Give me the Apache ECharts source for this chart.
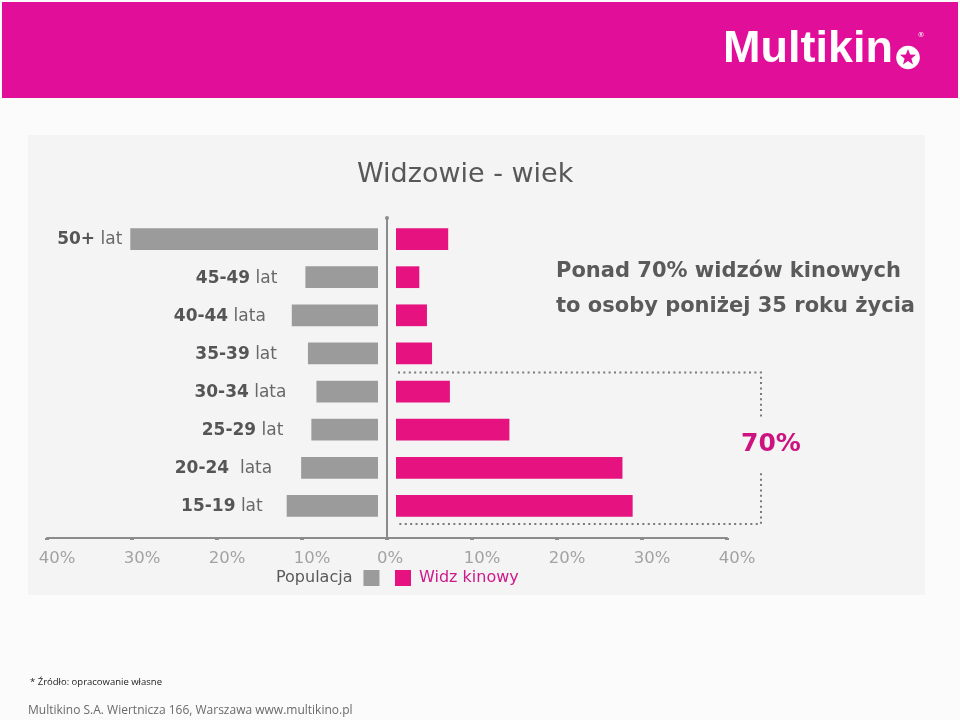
<!DOCTYPE html>
<html><head><meta charset="utf-8">
<script src="https://cdn.jsdelivr.net/npm/echarts@6/dist/echarts.min.js"></script>
<style>html,body{margin:0;padding:0;background:#fcfbfb}#c{width:960px;height:720px}</style>
</head><body><div id="c"></div>
<script>
// ---- data ----
const categories = ['50+ lat', '45-49 lat', '40-44 lata', '35-39 lat', '30-34 lata', '25-29 lat', '20-24  lata', '15-19 lat'];
const populacja = [30.2, 9.6, 11.2, 9.3, 8.3, 8.9, 10.1, 11.8];
const widzKinowy = [7.2, 3.8, 4.7, 5.3, 7.4, 14.4, 27.7, 28.9];
const seriesNames = ['Populacja', 'Widz kinowy'];
const xMin = -40, xMax = 40, xStep = 10;
const titleText = 'Widzowie - wiek';
const noteLines = ['Ponad 70% widzów kinowych', 'to osoby poniżej 35 roku życia'];
const bracketLabel = '70%';
const bracketFirst = 4, bracketLast = 7;
const bracketRight = 44;
const footnote = '* Źródło: opracowanie własne';
const footer = 'Multikino S.A. Wiertnicza 166, Warszawa www.multikino.pl';
const logoText = 'Multikin';

// ---- style ----
const PINK = '#e5127f', GRAY = '#9b9b9b', HEADER = '#e10e9a', AXIS = '#8c8c8c';
const GAP = 9;
const LABEL_GAP = [8, 28, 26, 31, 30, 28, 29, 24];
const FONT = '"DejaVu Sans", Verdana, sans-serif';

const chart = echarts.init(document.getElementById('c'));

function barRenderer(withLabel) {
  return function (params, api) {
    const v = api.value(0), idx = api.value(1);
    const p0 = api.coord([0, idx]), p1 = api.coord([v, idx]);
    const h = api.size([0, 1])[1] * 0.57;
    const dir = v < 0 ? -1 : 1;
    const xs = p0[0] + dir * GAP;
    const x = Math.min(xs, p1[0]), w = Math.abs(p1[0] - xs);
    const children = [{ type: 'rect', shape: { x: x, y: p1[1] - h / 2, width: w, height: h }, style: { fill: api.visual('color') } }];
    if (withLabel) {
      const full = categories[params.dataIndex];
      const sp = full.indexOf(' ');
      const txt = '{b|' + full.slice(0, sp) + '}{n|' + full.slice(sp) + '}';
      children.push({
        type: 'text',
        style: {
          text: txt, x: p1[0] - LABEL_GAP[params.dataIndex], y: p1[1] + 1, align: 'right', verticalAlign: 'middle',
          rich: {
            b: { fontFamily: FONT, fontWeight: 'bold', fontSize: 17, fill: '#555555', color: '#555555' },
            n: { fontFamily: FONT, fontWeight: 'normal', fontSize: 17, fill: '#686868', color: '#686868' }
          }
        }
      });
    }
    return { type: 'group', children: children };
  };
}

const option = {
  backgroundColor: '#fcfbfb',
  animation: false,
  title: { text: titleText, left: 352, top: 156, textStyle: { fontFamily: FONT, fontSize: 27, fontWeight: 'normal', color: '#585858' } },
  grid: { left: 47, right: 233, top: 220, bottom: 195 },
  xAxis: {
    type: 'value', min: xMin, max: xMax, interval: xStep, offset: 13,
    splitLine: { show: false },
    axisLine: { show: true, lineStyle: { color: AXIS, width: 2 } },
    axisTick: { show: true, length: 2, lineStyle: { color: AXIS, width: 4 } },
    axisLabel: {
      margin: 12,
      formatter: function (v) { return v === 0 ? '{z|0%}' : '{p|' + Math.abs(v) + '%}'; },
      rich: {
        p: { padding: [0, 0, 0, 20], color: '#a3a3a3', fontSize: 16.5, fontFamily: FONT },
        z: { padding: [0, 0, 0, 6], color: '#a3a3a3', fontSize: 16.5, fontFamily: FONT }
      }
    }
  },
  yAxis: { type: 'category', data: categories, inverse: true, axisLine: { show: false }, axisTick: { show: false }, axisLabel: { show: false }, splitLine: { show: false } },
  legend: [
    { data: [seriesNames[0]], left: 271, top: 565, align: 'right', icon: 'rect', itemWidth: 16, itemHeight: 16, selectedMode: false,
      textStyle: { color: '#5a5a5a', fontSize: 16, fontFamily: FONT, padding: [0, 6, 0, 0] } },
    { data: [seriesNames[1]], left: 390, top: 565, align: 'left', icon: 'rect', itemWidth: 16, itemHeight: 16, selectedMode: false,
      textStyle: { color: '#cf188a', fontSize: 16, fontFamily: FONT, padding: [0, 0, 0, 3] } }
  ],
  series: [
    { type: 'custom', name: seriesNames[0], renderItem: barRenderer(true), encode: { x: 0, y: 1 },
      itemStyle: { color: GRAY }, data: populacja.map(function (v, i) { return [-v, i]; }) },
    { type: 'custom', name: seriesNames[1], renderItem: barRenderer(false), encode: { x: 0, y: 1 },
      itemStyle: { color: PINK }, data: widzKinowy.map(function (v, i) { return [v, i]; }) }
  ]
};
chart.setOption(option);

// ---- decorations anchored to axes ----
const px = function (v, c) { return chart.convertToPixel({ gridIndex: 0 }, [v, c]); };
const c0 = px(0, 0), c1 = px(0, 1);
const band = c1[1] - c0[1];
const zeroX = c0[0];
const lastY = px(0, categories.length - 1)[1];
const axisY = lastY + band / 2 + 13;
const bTop = (px(0, bracketFirst - 1)[1] + px(0, bracketFirst)[1]) / 2;
const bBot = px(0, bracketLast)[1] + band / 2 - 1;
const bLeft = zeroX + GAP + 2;
const bRight = px(bracketRight, 0)[0];
const bMid = (bTop + bBot) / 2 - 4;
const dot = { stroke: '#7a7a7a', lineWidth: 2, lineDash: [2, 3.4], fill: null };

// star in logo
const sx = 908, sy = 57.5, ro = 8.5, ri = 3.6;
const star = [];
for (let k = 0; k < 10; k++) {
  const r = k % 2 === 0 ? ro : ri;
  const a = -Math.PI / 2 + k * Math.PI / 5;
  star.push([sx + r * Math.cos(a), sy + r * Math.sin(a)]);
}

chart.setOption({
  graphic: [
    { type: 'rect', z: -20, shape: { x: 28, y: 135, width: 897, height: 460 }, style: { fill: '#f4f4f4' } },
    { type: 'rect', z: -20, shape: { x: 2, y: 2, width: 956, height: 96 }, style: { fill: HEADER } },
    { type: 'text', z: 5, style: { text: logoText, x: 723, y: 50, verticalAlign: 'middle', fill: '#ffffff', font: 'bold 45px "Liberation Sans", Arial, sans-serif' } },
    { type: 'circle', z: 5, shape: { cx: sx, cy: sy, r: 11.8 }, style: { fill: '#ffffff' } },
    { type: 'polygon', z: 6, shape: { points: star }, style: { fill: HEADER } },
    { type: 'text', z: 5, style: { text: '®', x: 921, y: 35, align: 'center', verticalAlign: 'middle', fill: '#ffffff', font: '7px "DejaVu Sans", sans-serif' } },
    { type: 'line', z: 5, shape: { x1: zeroX, y1: c0[1] - 21, x2: zeroX, y2: axisY }, style: { stroke: AXIS, lineWidth: 2 } },
    { type: 'circle', z: 5, shape: { cx: zeroX, cy: c0[1] - 21, r: 2 }, style: { fill: AXIS } },
    { type: 'polyline', z: 5, shape: { points: [[bLeft, bTop], [bRight, bTop], [bRight, bMid - 27]] }, style: dot },
    { type: 'polyline', z: 5, shape: { points: [[bRight, bMid + 29], [bRight, bBot], [bLeft, bBot]] }, style: dot },
    { type: 'text', z: 5, style: { text: bracketLabel, x: bRight + 10, y: bMid, align: 'center', verticalAlign: 'middle', fill: '#cc137f', font: 'bold 25px ' + FONT } },
    { type: 'text', z: 5, style: { text: noteLines[0], x: 556, y: 272, verticalAlign: 'middle', fill: '#5a5a5a', font: 'bold 21px ' + FONT } },
    { type: 'text', z: 5, style: { text: noteLines[1], x: 556, y: 307, verticalAlign: 'middle', fill: '#5a5a5a', font: 'bold 21px ' + FONT } },
    { type: 'text', z: 5, style: { text: footnote, x: 30, y: 682, verticalAlign: 'middle', fill: '#222222', font: '9.5px "Open Sans", "Noto Sans", sans-serif' } },
    { type: 'text', z: 5, style: { text: footer, x: 28, y: 711, verticalAlign: 'middle', fill: '#6a6a6a', font: '12px "Open Sans", "Noto Sans", sans-serif' } }
  ]
});
</script>
</body></html>
